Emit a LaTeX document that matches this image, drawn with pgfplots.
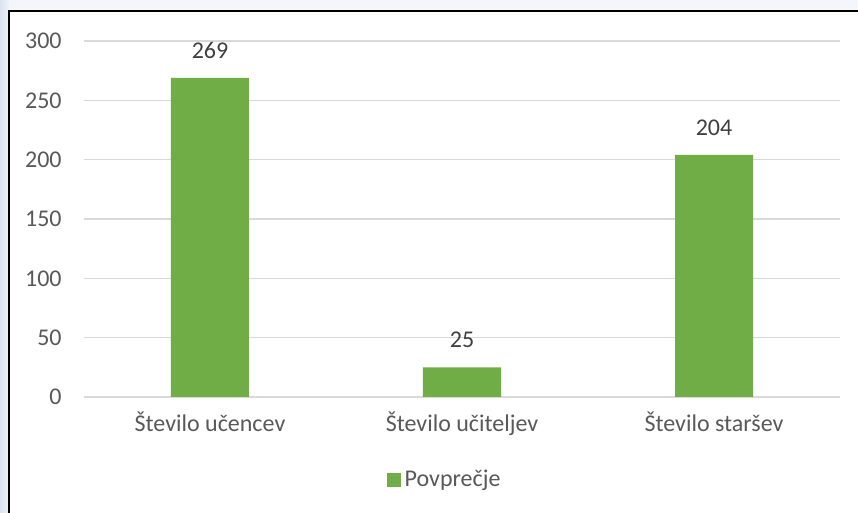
\documentclass[border=0pt]{standalone}
\usepackage{pgfplots}
\pgfplotsset{compat=1.18}
\usepackage{fontspec}
\setmainfont{Carlito}
\definecolor{bargreen}{HTML}{70AD47}
\definecolor{txtgrey}{HTML}{595959}
\definecolor{lblgrey}{HTML}{404040}
\definecolor{gridgrey}{HTML}{D9D9D9}
\definecolor{bgleftA}{HTML}{DCE3F0}
\definecolor{bgleftB}{HTML}{EEF1F8}
\definecolor{bgtop}{HTML}{F4F6FB}
\begin{document}
\begin{tikzpicture}[x=1pt,y=1pt]
\path[use as bounding box] (0,0) rectangle (429,256.5);
\fill[bgtop] (0,0) rectangle (429,256.5);
\shade[left color=bgleftA, right color=bgleftB] (0,0) rectangle (4.25,256.5);
\fill[white] (4.25,0) rectangle (429,251);
\draw[black, line width=1pt] (4.25,0) -- (4.25,251) -- (429,251);
\begin{axis}[
  at={(42pt,58pt)}, anchor=south west,
  scale only axis, width=378pt, height=178pt,
  ymin=0, ymax=300, xmin=-0.5, xmax=2.5,
  ytick={0,50,...,300},
  xtick={0,1,2},
  xticklabels={Število učencev, Število učiteljev, Število staršev},
  axis line style={draw=none},
  major tick length=0pt,
  ymajorgrids,
  grid style={gridgrey, line width=0.75pt},
  tick label style={font=\fontsize{12}{14}\selectfont, color=txtgrey},
  /pgf/number format/assume math mode=true,
  yticklabel style={anchor=east, inner sep=0pt, xshift=-11pt},
  xticklabel style={anchor=base, inner sep=0pt, yshift=-17.5pt},
  ybar, bar width=39pt,
  nodes near coords,
  nodes near coords style={font=\fontsize{12}{14}\selectfont, color=lblgrey, anchor=south, inner sep=0pt, yshift=9.5pt},
  legend style={at={(0.4785,-0.2331)}, anchor=center, draw=none, fill=none,
    font=\fontsize{12}{14}\selectfont, text=txtgrey},
  legend image code/.code={\fill[bargreen] (0pt,-3.4pt) rectangle (6.8pt,3.4pt);},
]
\addplot[fill=bargreen, draw=none] coordinates {(0,269) (1,25) (2,204)};
\addlegendentry{Povprečje}
\end{axis}
\end{tikzpicture}
\end{document}
